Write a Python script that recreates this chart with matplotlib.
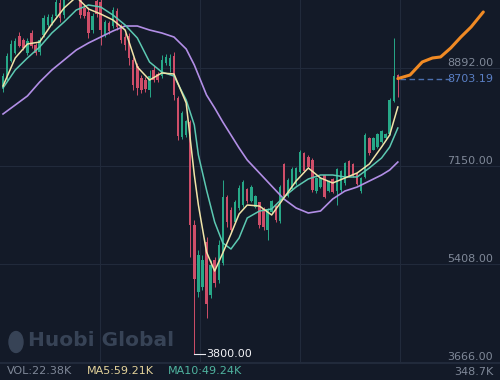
import numpy as np
import matplotlib.pyplot as plt
from matplotlib.lines import Line2D
from matplotlib.patches import Ellipse
import matplotlib.transforms as mtransforms

# candle data (price), one entry per candle
opens = [8536, 8700, 9020, 9160, 9462, 9390, 9160, 9515, 9301, 9177,
         9479, 9657, 9693, 9817, 10049, 9835, 10130, 10300, 10200, 10250,
         9960, 9888, 9568, 10080, 10066, 9479, 9693, 9639, 9907, 9639,
         9450, 9461, 9034, 8928, 8714, 8678, 8500, 8856, 8785, 8749,
         8981, 8928, 9105, 8358, 7663, 7700, 7931, 6100, 4900, 4994,
         5800, 4851, 5474, 5118, 5421, 6596, 6364, 6150, 6400, 6450,
         6740, 6530, 6420, 6500, 6380, 6000, 6330, 6440, 6170, 7180,
         6620, 6740, 6830, 7040, 7380, 7300, 7260, 6700, 6780, 6980,
         6700, 6920, 6700, 6720, 6840, 7240, 7190, 7030, 6700, 6950,
         7640, 7440, 7480, 7580, 7640, 7720, 8300, 8760]
highs = [8803, 9159, 9390, 9426, 9532, 9426, 9426, 9568, 9337, 9444,
         9835, 9853, 9853, 10190, 10150, 10200, 10380, 10400, 10420, 10350,
         10013, 9977, 9871, 10150, 10120, 9746, 9728, 9977, 9960, 9675,
         9515, 9515, 9088, 8981, 8767, 8732, 8856, 8928, 8820, 9123,
         9141, 9141, 9177, 8400, 8120, 7966, 7966, 6186, 5652, 5563,
         5883, 5474, 5527, 5830, 6898, 6631, 6418, 6542, 6809, 6898,
         6756, 6809, 6631, 6507, 6418, 6400, 6542, 6453, 6809, 7201,
         6934, 7130, 7130, 7432, 7396, 7343, 7290, 6952, 6952, 6987,
         6898, 6934, 7112, 7076, 7219, 7254, 7201, 7040, 6952, 7735,
         7663, 7663, 7735, 7788, 7735, 8358, 9426, 8790]
lows = [8465, 8678, 8999, 9141, 9265, 9212, 9123, 9248, 9123, 9123,
        9444, 9621, 9657, 9782, 9710, 9782, 10110, 10140, 10150, 9782,
        9782, 9426, 9515, 9799, 9301, 9444, 9497, 9604, 9568, 9337,
        9212, 8945, 8500, 8411, 8447, 8465, 8376, 8643, 8643, 8714,
        8945, 8820, 8322, 7610, 7630, 7663, 5527, 3800, 4816, 4940,
        4442, 4798, 4994, 5065, 5385, 6062, 5955, 6133, 6364, 6418,
        6489, 6507, 6400, 6044, 6008, 5830, 6311, 6150, 6133, 6596,
        6596, 6720, 6809, 7023, 7040, 7112, 6684, 6667, 6756, 6578,
        6684, 6667, 6453, 6684, 6809, 6952, 6952, 6809, 6667, 6934,
        7343, 7432, 7468, 7557, 7610, 7699, 8287, 8380]
closes = [8749, 9105, 9320, 9372, 9283, 9248, 9372, 9283, 9159, 9390,
          9782, 9800, 9800, 10066, 9782, 10110, 10280, 10220, 10330, 9835,
          9817, 9515, 9817, 9853, 9568, 9710, 9550, 9924, 9621, 9390,
          9300, 9070, 8589, 8536, 8500, 8518, 8749, 8678, 8678, 9034,
          9088, 9070, 8410, 7680, 8091, 7950, 6100, 5130, 5560, 5474,
          4700, 5385, 5065, 5741, 6600, 6150, 6000, 6500, 6750, 6860,
          6520, 6780, 6610, 6100, 6060, 6380, 6520, 6180, 6780, 6620,
          6900, 7100, 7110, 7400, 7060, 7130, 6720, 6940, 6940, 6600,
          6880, 6690, 7090, 7060, 7200, 6970, 6970, 6820, 6930, 7700,
          7370, 7640, 7720, 7770, 7720, 8322, 8750, 8703.19]

# moving average lines
ma_idx = [0, 3, 6, 9, 12, 15, 18, 21, 24, 27, 30, 33, 36, 39, 42, 45, 47, 48, 50,
          52, 54, 56, 58, 60, 63, 66, 69, 72, 75, 78, 81, 84, 87, 90, 93, 95, 97]
ma5 = [8571, 9070, 9319, 9354, 9675, 9960, 10155, 9942, 9853, 9746, 9568, 8910, 8678,
       8803, 8785, 8269, 6987, 6453, 5616, 5278, 5599, 5937, 6293, 6453, 6435, 6275,
       6578, 6880, 7112, 6934, 6845, 6934, 7023, 7183, 7485, 7699, 8198]
ma10 = [8536, 8856, 9070, 9265, 9515, 9710, 9924, 10013, 9977, 9835, 9657, 9426, 8998,
        8820, 8749, 8322, 7877, 7343, 6720, 6150, 5777, 5670, 5866, 6222, 6346, 6382,
        6596, 6774, 6916, 6987, 6987, 6952, 6952, 7112, 7290, 7485, 7824]
ma30 = [8073, 8233, 8394, 8642, 8856, 9034, 9212, 9337, 9443, 9550, 9639, 9639, 9568,
        9515, 9443, 9230, 8945, 8767, 8411, 8180, 7930, 7699, 7468, 7254, 7023, 6791,
        6560, 6400, 6311, 6346, 6560, 6702, 6773, 6880, 6987, 7076, 7218]

# forecast line (orange)
fc_idx = [97, 100, 103, 105.5, 107.5, 110, 112.5, 115, 118]
fc_val = [8703, 8767, 8999, 9070, 9088, 9248, 9444, 9622, 9889]

price_ticks = [8892.00, 7150.00, 5408.00, 3666.00]
last_price = 8703.19
low_price = 3800.00
low_idx = 47
vol_texts = ['VOL:22.38K', 'MA5:59.21K', 'MA10:49.24K']
vol_max = '348.7K'

BG = '#151c2c'
GREEN = '#27a888'
RED = '#cf4e69'
GRID = '#212a3b'
LABEL = '#7f8898'

fig = plt.figure(figsize=(5, 3.8), dpi=100)
fig.patch.set_facecolor('#131a28')
ax = fig.add_axes([0, 17 / 380, 1, 363 / 380])
ax.set_facecolor(BG)
ax.set_xlim(-0.74, 122.1)
ax.set_ylim(3641, 10102)
ax.axis('off')

# grid
for p in price_ticks:
    ax.axhline(p, color=GRID, lw=0.8, zorder=0)
for fx in [0.2, 0.4, 0.6, 0.8]:
    fig.add_artist(Line2D([fx, fx], [17 / 380, 1], color=GRID, lw=0.8, zorder=0))

o = np.array(opens, dtype=float)
h = np.array(highs, dtype=float)
l = np.array(lows, dtype=float)
c = np.array(closes, dtype=float)
idx = np.arange(len(o))
up = c >= o
cols = np.where(up, GREEN, RED)

ax.vlines(idx, l, h, colors=cols, lw=0.7, zorder=2)
body = np.maximum(np.abs(c - o), 15)
ax.bar(idx, body, bottom=np.minimum(o, c), width=0.6, color=cols, zorder=3, linewidth=0)

ax.plot(ma_idx, ma30, color='#b28ee6', lw=1.2, zorder=4)
ax.plot(ma_idx, ma10, color='#5cc9b2', lw=1.1, zorder=4)
ax.plot(ma_idx, ma5, color='#f0e4a8', lw=1.1, zorder=5)

ax.plot(fc_idx, fc_val, color='#f08a24', lw=2.2, solid_capstyle='round', zorder=6)
ax.plot([97.6, 110.3], [last_price, last_price], color='#4b6fae', lw=1.0,
        dashes=(4, 2.5), zorder=5)

trans = mtransforms.blended_transform_factory(ax.transAxes, ax.transData)
for p in price_ticks:
    ax.text(0.986, p, f'{p:.2f}', transform=trans, ha='right', va='bottom',
            color=LABEL, fontsize=8)
ax.text(0.986, last_price, f'{last_price:.2f}', transform=trans, ha='right',
        va='center', color='#5a7fc4', fontsize=8)

# lowest price marker
ax.plot([low_idx, low_idx + 2.6], [low_price, low_price], color='#e8e8ee', lw=0.8, zorder=6)
ax.text(low_idx + 3.0, low_price, f'{low_price:.2f}', ha='left', va='center',
        color='#f2f2f6', fontsize=8, zorder=6)

# watermark
fig.text(0.056, 0.103, 'Huobi Global', color='#374356', fontsize=14.5,
         fontweight='bold', ha='left', va='center')
fig.add_artist(Ellipse((0.032, 0.1), 0.028, 0.055, color='#374356'))

# volume header row
fig.add_artist(Line2D([0, 1], [17 / 380, 17 / 380], color=GRID, lw=0.8))
vol_cols = [LABEL, '#e3d29a', '#4fb39f']
vol_x = [0.014, 0.174, 0.336]
for t, col, xx in zip(vol_texts, vol_cols, vol_x):
    fig.text(xx, 0.024, t, color=col, fontsize=8, ha='left', va='center')
fig.text(0.986, 0.022, vol_max, color=LABEL, fontsize=8, ha='right', va='center')

fig.savefig('out.png', dpi=100, facecolor=fig.get_facecolor())
